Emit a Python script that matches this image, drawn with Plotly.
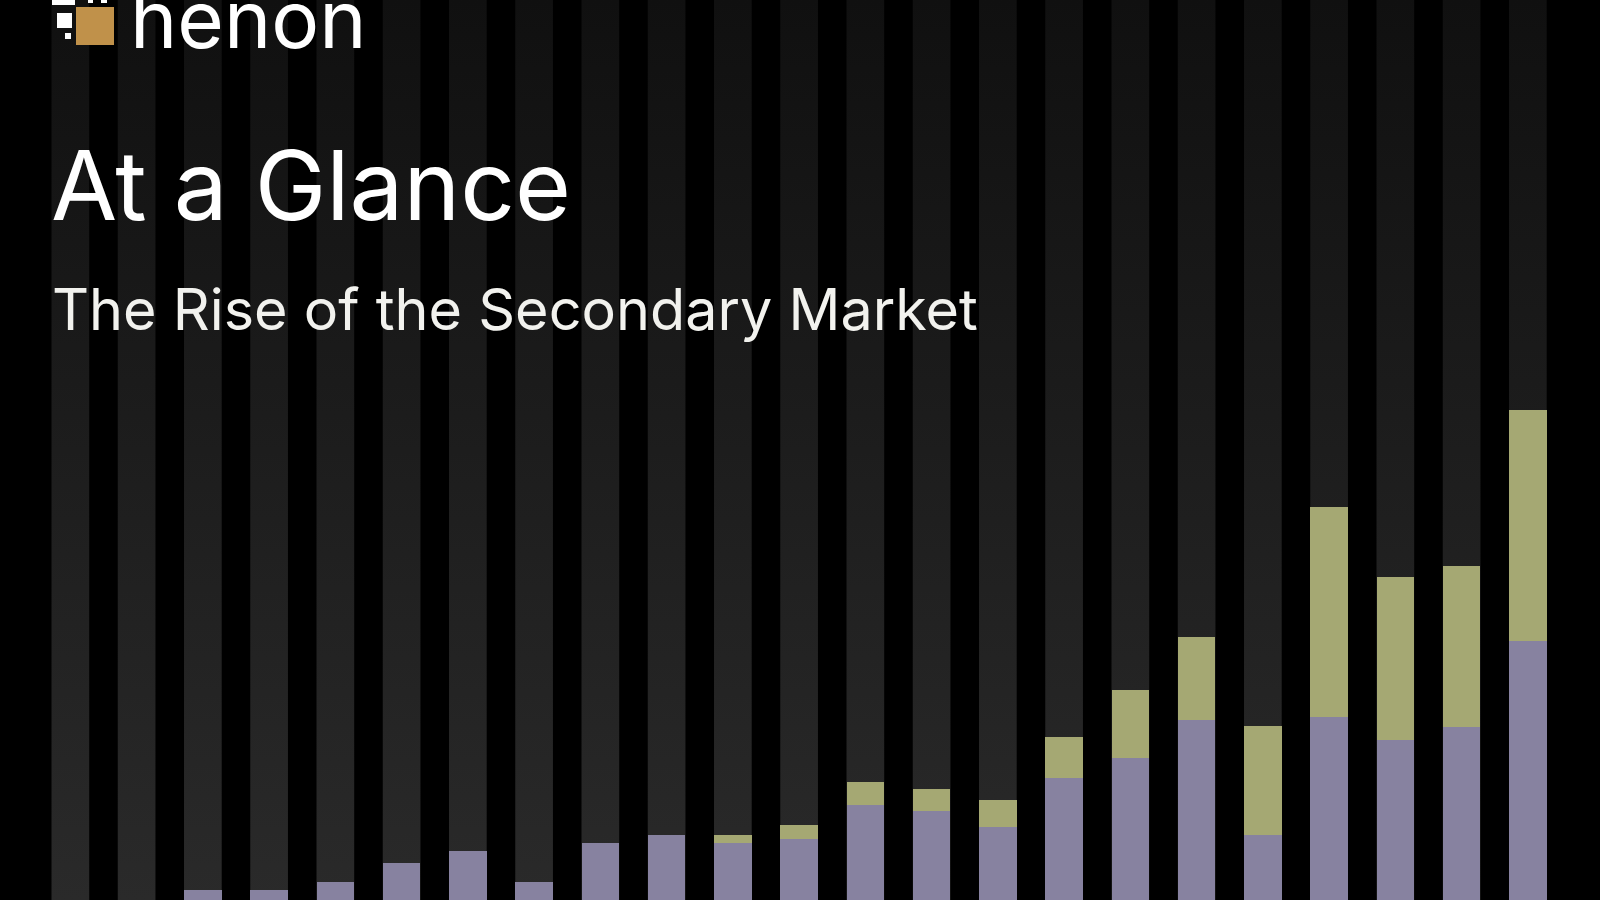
import plotly.graph_objects as go

# ---- data (arbitrary units) ----
years = list(range(2000, 2023))
lp_led = [0, 0, 2.5, 2.5, 4.6, 9.2, 12.2, 4.6, 14.2, 16.3, 14.2, 15.2, 23.7,
          22.3, 18.2, 30.4, 35.5, 44.9, 16.3, 45.7, 40.0, 43.2, 64.7]
gp_led = [0, 0, 0, 0, 0, 0, 0, 0, 0, 0, 2.1, 3.5, 5.7,
          5.4, 6.7, 10.3, 17.1, 20.9, 27.3, 52.6, 40.8, 40.3, 57.8]

title_text = "At a Glance"
subtitle_text = "The Rise of the Secondary Market"
logo_text = "henon"

# ---- style ----
BAR_W = 0.569
Y_MAX = 225
PURPLE = "#8782a0"
OLIVE = "#a5a873"
X0 = years[0]
X_RANGE = [X0 - 1.062, X0 + 23.089]

fig = go.Figure()

# full-height gradient background columns (on the base axes, underneath)
for yr in years:
    fig.add_trace(go.Scatter(
        x=[yr - BAR_W / 2, yr + BAR_W / 2, yr + BAR_W / 2, yr - BAR_W / 2, yr - BAR_W / 2],
        y=[0, 0, Y_MAX, Y_MAX, 0],
        mode="lines", fill="toself",
        fillgradient=dict(type="vertical",
                          colorscale=[[0, "#2a2a2a"], [1, "#101010"]]),
        line=dict(width=0), hoverinfo="skip", showlegend=False,
        xaxis="x", yaxis="y",
    ))

# data bars on overlaying axes so they are drawn above the columns
fig.add_trace(go.Bar(x=years, y=lp_led, width=BAR_W, marker=dict(color=PURPLE, line=dict(width=0)),
                     showlegend=False, name="LP-led", xaxis="x2", yaxis="y2"))
fig.add_trace(go.Bar(x=years, y=gp_led, width=BAR_W, marker=dict(color=OLIVE, line=dict(width=0)),
                     showlegend=False, name="GP-led", xaxis="x2", yaxis="y2"))

fig.update_layout(
    width=1600, height=900,
    margin=dict(l=0, r=0, t=0, b=0),
    paper_bgcolor="#000000", plot_bgcolor="#000000",
    barmode="stack",
    xaxis=dict(range=X_RANGE, visible=False, showgrid=False, zeroline=False),
    yaxis=dict(range=[0, Y_MAX], visible=False, showgrid=False, zeroline=False),
    xaxis2=dict(range=X_RANGE, visible=False, showgrid=False, zeroline=False, overlaying="x"),
    yaxis2=dict(range=[0, Y_MAX], visible=False, showgrid=False, zeroline=False, overlaying="y"),
    font=dict(family="Inter", color="#ffffff"),
)

# titles
fig.add_annotation(text=title_text, xref="paper", yref="paper", x=49 / 1600, y=1 - 185 / 900,
                   xanchor="left", yanchor="middle", showarrow=False,
                   font=dict(family="Inter", size=96, color="#ffffff"))
fig.add_annotation(text=subtitle_text, xref="paper", yref="paper", x=50 / 1600, y=1 - 309 / 900,
                   xanchor="left", yanchor="middle", showarrow=False,
                   font=dict(family="Inter", size=57.5, color="#f2f2ee"))

# logo
fig.add_annotation(text=logo_text, xref="paper", yref="paper", x=128 / 1600, y=1 - 19 / 900,
                   xanchor="left", yanchor="middle", showarrow=False,
                   font=dict(family="Inter", size=80, color="#ffffff"))

def px_rect(x0, y0, x1, y1, color):
    fig.add_shape(type="rect", xref="paper", yref="paper",
                  x0=x0 / 1600, x1=x1 / 1600, y0=1 - y1 / 900, y1=1 - y0 / 900,
                  fillcolor=color, line=dict(width=0), layer="above")

px_rect(76, 7, 114, 45, "#c0914a")
px_rect(52, 0, 75, 5, "#ffffff")
px_rect(57, 13, 72, 28, "#ffffff")
px_rect(65, 33, 71, 39, "#ffffff")
px_rect(88, 0, 93, 3, "#ffffff")
px_rect(101, 0, 107, 3, "#ffffff")

fig.write_html("out.html", config={"displayModeBar": False},
               post_script="document.body.style.margin='0px';document.body.style.background='#000';")
